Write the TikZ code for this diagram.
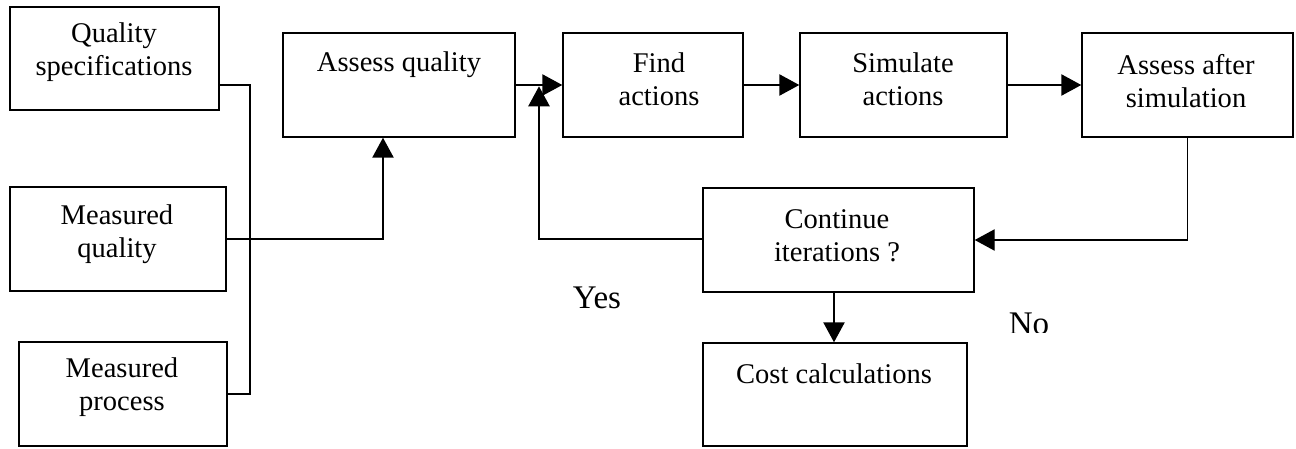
\documentclass[tikz,border=0pt]{standalone}
\usepackage{fontspec}
\setmainfont{Liberation Serif}
\usetikzlibrary{arrows.meta}
\begin{document}
\begin{tikzpicture}[x=0.75pt,y=-0.75pt,
  box/.style={draw,line width=1.1pt,inner sep=0pt},
  txt/.style={align=center,inner sep=0pt,font=\fontsize{21.4pt}{24.75pt}\selectfont},
  lbl/.style={inner sep=0pt,font=\fontsize{24.75pt}{28pt}\selectfont},
  link/.style={line width=1.1pt},
  arr/.style={line width=1.1pt,-{Triangle[length=15pt,width=16pt]}}]
\useasboundingbox (0,0) rectangle (1296,449);

% boxes
\node[box,minimum width=156.75pt,minimum height=77.25pt] (qs) at (114.5,58.5) {};
\node[box,minimum width=162pt,minimum height=78pt] (mq) at (118,239) {};
\node[box,minimum width=156pt,minimum height=78pt] (mp) at (123,394) {};
\node[box,minimum width=174pt,minimum height=78pt] (aq) at (399,85) {};
\node[box,minimum width=135pt,minimum height=78pt] (fa) at (653,85) {};
\node[box,minimum width=155.25pt,minimum height=78pt] (sa) at (903.5,85) {};
\node[box,minimum width=158.25pt,minimum height=78pt] (aa) at (1187.5,85) {};
\node[box,minimum width=203.25pt,minimum height=78pt] (ci) at (838.5,240) {};
\node[box,minimum width=198pt,minimum height=77.25pt] (cc) at (835,394.5) {};

% texts
\node[txt] (tqs) at (114,52.5) {Quality\\specifications};
\node[txt] (tmq) at (117,234) {Measured\\quality};
\node[txt] (tmp) at (122,387.5) {Measured\\process};
\node[txt,anchor=base] (taq) at (399,72) {Assess quality};
\node[txt] (tfa) at (659,79.5) {Find\\actions};
\node[txt] (tsa) at (903,79.5) {Simulate\\actions};
\node[txt] (taa) at (1186,81) {Assess after\\simulation};
\node[txt] (tci) at (837,235.5) {Continue\\iterations ?};
\node[txt,anchor=base] (tcc) at (834,383) {Cost calculations};

% branch labels
\node[lbl,anchor=base] (yes) at (597,308) {Yes};
\begin{scope}
  \clip (990,290) rectangle (1070,332);
  \node[lbl,anchor=base] (no) at (1029,334) {No};
\end{scope}

% junction points
\coordinate (j1) at (250,85);
\coordinate (j2) at (250,394);
\coordinate (j3) at (383,239);
\coordinate (j4) at (539,239);
\coordinate (j5) at (834,292);

% inputs
\draw[link] (qs.east |- j1) -- (j1) -- (j2) -- (mp.east);
\draw[arr] (mq.east) -- (j3) -- (j3 |- aq.south);

% main chain
\draw[arr] (aq.east) -- (fa.west);
\draw[arr] (fa.east) -- (sa.west);
\draw[arr] (sa.east) -- (aa.west);
\draw[arr] (aa.south) -- (aa.south |- ci.east) -- (ci.east);

% loop back and exit
\draw[arr] (ci.west |- j4) -- (j4) -- ([yshift=-1pt]j4 |- aq.east);
\draw[arr] (j5) -- (j5 |- cc.north);
\end{tikzpicture}
\end{document}
